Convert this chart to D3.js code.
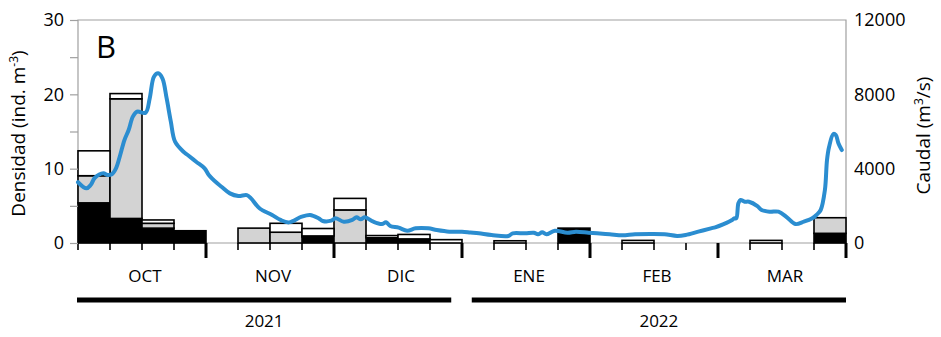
<!DOCTYPE html>
<html>
<head>
<meta charset="utf-8">
<script src="https://cdn.jsdelivr.net/npm/d3@7"></script>
<style>
body{margin:0;background:#fff}
text{font-family:"Open Sans",sans-serif;fill:#000}
</style>
</head>
<body>
<div id="chart"></div>
<script>

const semanas=d3.range(1,25)
const negro =[5.4,3.3,2.0,1.65,0,0,0,0.8,0,0.7,0.55,0, 0,0,0,2.0,0,0,0,0,0,0,0,1.3]
const gris  =[3.65,16.1,0.65,0,0,2.0,1.45,0.15,4.45,0,0,0, 0,0,0,0,0,0,0,0,0,0,0,2.1]
const blanco=[3.35,0.7,0.45,0,0,0,1.2,1.0,1.55,0.3,0.6,0.45, 0,0.3,0,0,0,0.35,0,0,0,0.35,0,0]

const meses=["OCT","NOV","DIC","ENE","FEB","MAR"]
const anios=["2021","2022"]

// caudal diario, dia 0 = 1 oct 2021
const dia   =[0,2,3,4,6,7,8,9,10,11,12,13,14,16,17,18,19,20,21,22,23,25,26,28,30,31,33,34,36,38,40,41,43,46,48,50,53,55,57,58,60,61,63,65,66,67,68,70,72,73,74,76,78,80,83,85,88,91,93,95,98,102,103,106,108,109,110,111,113,116,118,121,123,126,129,132,136,139,142,144,147,150,151,153,155,155.5,156,156.5,157,158,159,161,162,164,166,168,170,172,174,175,176,177,177.5,178,179,179.6,180.2,181]
const caudal=[3270,2940,3120,3510,3750,3660,3700,4020,4735,5540,6080,6800,7065,7010,7790,8950,9130,8860,7790,6530,5450,4910,4735,4375,4020,3660,3210,3030,2670,2530,2580,2400,1870,1510,1240,1110,1415,1510,1330,1185,1200,1330,1145,1240,1385,1275,1385,1145,1020,1115,915,825,660,790,790,700,610,610,565,520,430,380,520,520,555,470,575,470,660,555,610,555,520,470,415,470,485,470,380,430,610,790,845,1020,1240,1330,1330,2136,2314,2222,2222,1990,1776,1684,1684,1385,1020,1145,1330,1510,1776,2850,4470,5180,5865,5810,5365,5000]

const width=941
const height=337
const L=78,R=846,T=20,B=243

const svg=d3.select("#chart")
.append("svg")
.attr("width",width)
.attr("height",height)

const x=d3.scaleBand().domain(semanas).range([L,R]).padding(0)
const xDia=d3.scaleLinear().domain([0,182]).range([L,R])
const xMes=d3.scaleBand().domain(meses).range([L,R])
const xAnio=d3.scaleBand().domain(anios).range([L-1,R]).paddingInner(0.052)
const y=d3.scaleLinear().domain([0,30]).range([B,T])
const y2=d3.scaleLinear().domain([0,12000]).range([B,T])

// marco
svg.append("path")
.attr("d","M"+L+","+B+"V"+T+"H"+R+"V"+B)
.attr("fill","none")
.attr("stroke","#a0a0a0")
.attr("stroke-width",1.2)

svg.append("line")
.attr("x1",L).attr("x2",R).attr("y1",B).attr("y2",B)
.attr("stroke","#a0a0a0").attr("stroke-width",1.2)

// barras apiladas
const tabla=semanas.map((s,i)=>({semana:s,negro:negro[i],gris:gris[i],blanco:blanco[i]}))
const claves=["negro","gris","blanco"]
const colores={negro:"#000",gris:"#d3d3d3",blanco:"#fff"}
const pila=d3.stack().keys(claves)(tabla)

svg.selectAll(".capa")
.data(pila)
.enter()
.append("g")
.attr("fill",d=>colores[d.key])
.selectAll("rect")
.data(d=>d.filter(p=>p[1]-p[0]>0))
.enter()
.append("rect")
.attr("x",d=>x(d.data.semana))
.attr("width",x.bandwidth())
.attr("y",d=>y(d[1]))
.attr("height",d=>y(d[0])-y(d[1]))
.attr("stroke","#000")
.attr("stroke-width",1.6)

// marcas de semana
const bordes=semanas.map(s=>x(s)).concat([R])
svg.selectAll(".marca")
.data(bordes)
.enter()
.append("line")
.attr("x1",d=>d).attr("x2",d=>d)
.attr("y1",B)
.attr("y2",(d,i)=>i>0&&i%4===0?B+15:B+7)
.attr("stroke","#000")
.attr("stroke-width",(d,i)=>i>0&&i%4===0?3:1.6)

// caudal
const linea=d3.line()
.x((d,i)=>xDia(dia[i]))
.y(d=>y2(d))
.curve(d3.curveCatmullRom)

svg.append("path")
.datum(caudal)
.attr("d",linea)
.attr("fill","none")
.attr("stroke","#2b8dd0")
.attr("stroke-width",4)
.attr("stroke-linejoin","round")
.attr("stroke-linecap","round")

// ejes
const ejeIzq=svg.append("g")
.attr("transform","translate("+L+",0)")
.call(d3.axisLeft(y).tickValues(d3.range(0,31,5)).tickFormat(d=>d%10===0?d:"").tickSize(8).tickPadding(6))
ejeIzq.select(".domain").remove()
ejeIzq.selectAll("line").attr("stroke","#a0a0a0").attr("stroke-width",1.2)
ejeIzq.selectAll("text").attr("font-size",18).attr("font-family","Open Sans")

const ejeDer=svg.append("g")
.attr("transform","translate("+R+",0)")
.call(d3.axisRight(y2).tickValues([0,4000,8000,12000]).tickFormat(d3.format("d")).tickSize(0).tickPadding(8))
ejeDer.select(".domain").remove()
ejeDer.selectAll("text").attr("font-size",18).attr("font-family","Open Sans")

svg.append("text")
.attr("transform","translate(25,"+((T+B)/2+2)+") rotate(-90)")
.attr("text-anchor","middle")
.attr("font-size",19)
.html("Densidad (ind. m<tspan dy='-7' font-size='12'>-3</tspan><tspan dy='7'>)</tspan>")

svg.append("text")
.attr("transform","translate(930,"+((T+B)/2+4)+") rotate(-90)")
.attr("text-anchor","middle")
.attr("font-size",19)
.html("Caudal (m<tspan dy='-7' font-size='12'>3</tspan><tspan dy='7'>/s)</tspan>")

svg.append("text")
.attr("x",96).attr("y",58)
.attr("font-size",31)
.text("B")

// meses y años
svg.selectAll(".mes")
.data(meses)
.enter()
.append("text")
.attr("x",d=>xMes(d)+xMes.bandwidth()/2+3)
.attr("y",282)
.attr("text-anchor","middle")
.attr("font-size",17)
.text(d=>d)

svg.selectAll(".barraAnio")
.data(anios)
.enter()
.append("rect")
.attr("x",d=>xAnio(d))
.attr("width",xAnio.bandwidth())
.attr("y",297.5)
.attr("height",5)
.attr("fill","#000")

svg.selectAll(".anio")
.data(anios)
.enter()
.append("text")
.attr("x",d=>xAnio(d)+xAnio.bandwidth()/2)
.attr("y",327)
.attr("text-anchor","middle")
.attr("font-size",17)
.text(d=>d)

</script>
</body>
</html>
